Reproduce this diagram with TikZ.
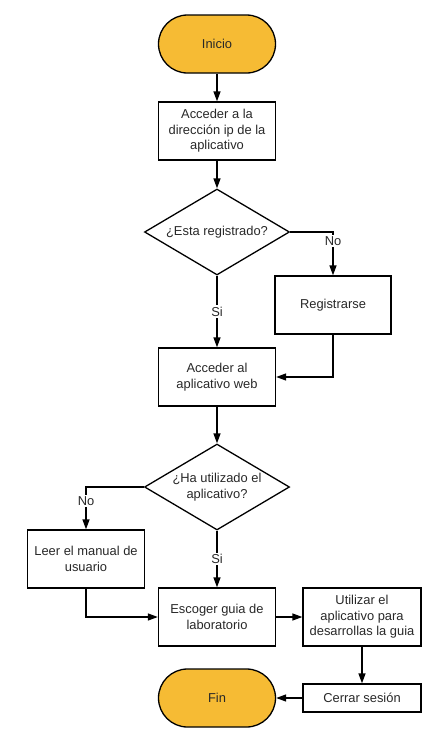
\documentclass[tikz,border=0pt]{standalone}
\usepackage{fontspec}
\setmainfont{Liberation Sans}
\usetikzlibrary{arrows.meta,shapes.geometric}
\definecolor{termfill}{RGB}{246,187,52}
\definecolor{inkgray}{RGB}{40,40,40}

\begin{document}
\begin{tikzpicture}[x=1pt,y=-1pt,
    every node/.style={text=inkgray,font=\fontsize{12.9}{15.5}\selectfont},
    proc/.style={draw,line width=1.3pt,minimum width=117pt,minimum height=58pt,align=center,inner sep=2pt},
    term/.style={proc,fill=termfill,rounded corners=29pt},
    decision/.style={draw,diamond,line width=1.3pt,aspect=1.7,minimum width=145pt,minimum height=86pt,inner sep=0pt,align=center},
    line/.style={draw,line width=1.3pt,-{Triangle[length=10pt,width=7pt]}},
    lbl/.style={fill=white,inner sep=1.5pt}]
  \useasboundingbox (0,0) rectangle (431,734);

  \node [term] (inicio) at (217,44) {Inicio};
  \node [proc] (dir) at (217,131) {Acceder a la\\dirección ip de la\\aplicativo};
  \node [decision] (reg) at (217,232) {¿Esta registrado?};
  \node [proc,minimum width=116pt] (registrarse) at (333,305) {Registrarse};
  \node [proc] (web) at (217,377) {Acceder al\\aplicativo web};
  \node [decision] (uso) at (217,487) {¿Ha utilizado el\\aplicativo?};
  \node [proc] (manual) at (86,559) {Leer el manual de\\usuario};
  \node [proc] (guia) at (217,617) {Escoger guia de\\laboratorio};
  \node [proc,minimum width=118pt] (usar) at (362,617) {Utilizar el\\aplicativo para\\desarrollas la guia};
  \node [proc,minimum width=118pt,minimum height=28pt] (cerrar) at (362,698) {Cerrar sesión};
  \node [term] (fin) at (217,698) {Fin};

  \draw [line] (inicio) -- (dir);
  \draw [line] (dir) -- (reg);
  \draw [line] (reg.east) -| node [lbl,pos=0.6] {No} (registrarse.north);
  \draw [line] (reg.south) -- node [lbl] {Si} (web.north);
  \draw [line] (registrarse.south) |- (web.east);
  \draw [line] (web) -- (uso);
  \draw [line] (uso.west) -| node [lbl,pos=0.67] {No} (manual.north);
  \draw [line] (uso.south) -- node [lbl] {Si} (guia.north);
  \draw [line] (manual.south) |- (guia.west);
  \draw [line] (guia) -- (usar);
  \draw [line] (usar) -- (cerrar);
  \draw [line] (cerrar) -- (fin);
\end{tikzpicture}
\end{document}
